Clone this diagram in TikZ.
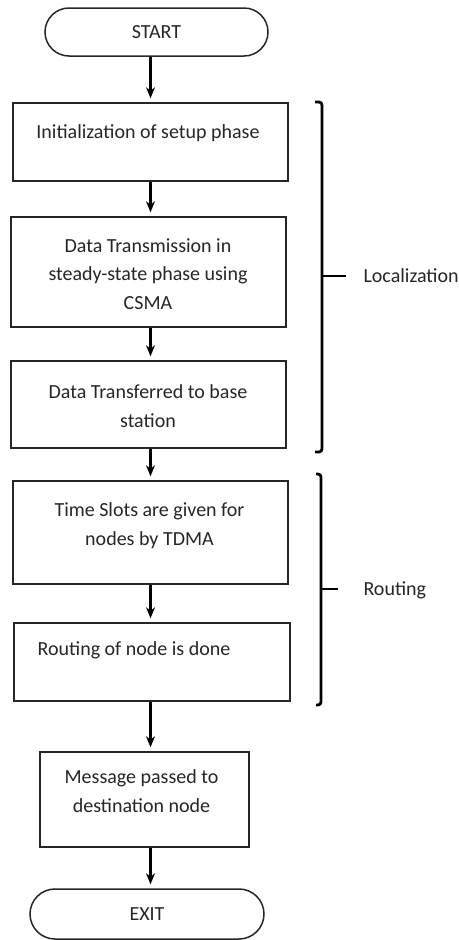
\documentclass[tikz,border=0pt]{standalone}
\usepackage{fontspec}
\setmainfont{Carlito}
\usepackage{tikz}
\usetikzlibrary{shapes.misc, arrows.meta, positioning}
\tikzstyle{arrow} = [line width=2.2pt,->,>={Stealth[length=11pt,width=9pt]},shorten >=4pt]
\tikzstyle{process} = [rectangle, draw=black!85, line width=1.5pt, inner sep=0pt]
\tikzstyle{terminal} = [rounded rectangle, draw=black!85, line width=1.5pt, inner sep=0pt]
\tikzstyle{brace} = [line width=2.8pt, rounded corners=3pt]

\begin{document}
\begin{tikzpicture}[x=1pt, y=-1pt, font=\fontsize{20}{28.5}\selectfont, text=black!85]
    \useasboundingbox (0,0) rectangle (458,940);

    % Terminals
    \node[terminal, minimum width=223pt, minimum height=48pt] (start) at (156.5,32) {START};
    \node[terminal, minimum width=234pt, minimum height=50pt] (exit) at (147,914) {EXIT};

    % Process boxes
    \node[process, minimum width=275pt, minimum height=78pt] (init) at (150.5,142) {};
    \node[process, minimum width=275pt, minimum height=110pt] (csma) at (148.5,272) {};
    \node[process, minimum width=275pt, minimum height=87pt] (base) at (148.5,404.5) {};
    \node[process, minimum width=275pt, minimum height=103pt] (tdma) at (150.5,532.5) {};
    \node[process, minimum width=276pt, minimum height=78pt] (route) at (152,662) {};
    \node[process, minimum width=209pt, minimum height=95pt] (msg) at (144.5,799.5) {};

    % Box texts
    \node (initT) at (148,133) {Initialization of setup phase};
    \node[align=center] (csmaT) at (148,274) {Data Transmission in\\steady-state phase using\\CSMA};
    \node[align=center] (baseT) at (148,406) {Data Transferred to base\\station};
    \node[align=center] (tdmaT) at (149.5,525.5) {Time Slots are given for\\nodes by TDMA};
    \node (routeT) at (134,650) {Routing of node is done};
    \node[align=center] (msgT) at (141.5,791) {Message passed to\\destination node};

    % Flow
    \draw[arrow] (init.north |- start.south) -- (init.north);
    \draw[arrow] (init.south) -- (init.south |- csma.north);
    \draw[arrow] (init.south |- csma.south) -- (init.south |- base.north);
    \draw[arrow] (init.south |- base.south) -- (tdma.north);
    \draw[arrow] (tdma.south) -- (tdma.south |- route.north);
    \draw[arrow] (init.south |- route.south) -- (init.south |- msg.north);
    \draw[arrow] (init.south |- msg.south) -- (init.south |- exit.north);

    % Brackets
    \draw[brace] (315,102) -- (322,102) -- (322,452) -- (315,452);
    \draw[line width=2.8pt] (322,276) -- (346,276);
    \node[anchor=west] (loc) at (360,276) {Localization};

    \draw[brace] (316,474) -- (321,474) -- (321,705) -- (316,705);
    \draw[line width=2.8pt] (321,589) -- (338,589);
    \node[anchor=west] (rout) at (360,590) {Routing};
\end{tikzpicture}
\end{document}
